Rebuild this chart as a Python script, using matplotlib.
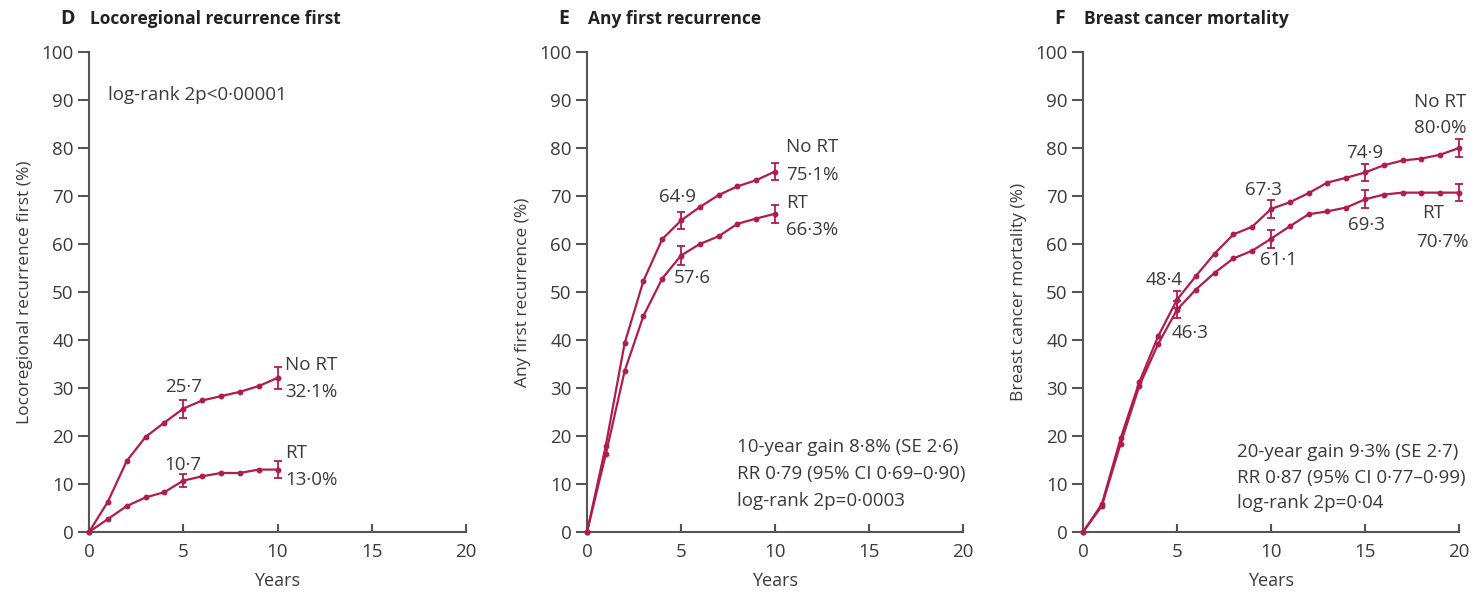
import numpy as np
import matplotlib.pyplot as plt

plt.rcParams['font.family'] = ['Open Sans', 'DejaVu Sans']

RED = '#b01c4f'
INK = '#3a3a3a'

# panel D: locoregional recurrence first, years 0-10
years_d = list(range(11))
d_no_rt = [0, 6.3, 14.8, 19.8, 22.8, 25.7, 27.4, 28.3, 29.2, 30.4, 32.1]
d_rt = [0, 2.7, 5.4, 7.2, 8.3, 10.7, 11.6, 12.3, 12.3, 13.0, 13.0]
d_err_years = [5, 10]
d_no_rt_se = [1.9, 2.3]
d_rt_se = [1.4, 1.7]

# panel E: any first recurrence, years 0-10
years_e = list(range(11))
e_no_rt = [0, 18.0, 39.3, 52.3, 61.0, 64.9, 67.7, 70.2, 72.0, 73.3, 75.1]
e_rt = [0, 16.2, 33.5, 45.0, 52.8, 57.6, 60.0, 61.6, 64.2, 65.3, 66.3]
e_err_years = [5, 10]
e_no_rt_se = [1.7, 1.7]
e_rt_se = [2.0, 1.9]

# panel F: breast cancer mortality, years 0-20
years_f = list(range(21))
f_no_rt = [0, 5.8, 19.5, 31.3, 40.8, 48.4, 53.3, 58.0, 62.0, 63.6, 67.3,
           68.7, 70.6, 72.8, 73.8, 74.9, 76.4, 77.4, 77.8, 78.6, 80.0]
f_rt = [0, 5.4, 18.4, 30.5, 39.2, 46.3, 50.5, 54.0, 57.0, 58.6, 61.1,
        63.7, 66.2, 66.8, 67.6, 69.3, 70.3, 70.7, 70.7, 70.7, 70.7]
f_err_years = [5, 10, 15, 20]
f_no_rt_se = [1.8, 1.8, 1.8, 1.9]
f_rt_se = [1.8, 1.9, 1.9, 1.8]

FS = 13.5


def setup_axes(ax, ylabel):
    ax.set_xlim(0, 20)
    ax.set_ylim(0, 100)
    ax.set_xticks([0, 5, 10, 15, 20])
    ax.set_yticks(range(0, 101, 10))
    for s in ['top', 'right']:
        ax.spines[s].set_visible(False)
    for s in ['left', 'bottom']:
        ax.spines[s].set_color('#555555')
        ax.spines[s].set_linewidth(1.5)
    ax.tick_params(axis='y', direction='out', length=8, width=1.5,
                   color='#555555', labelsize=FS, labelcolor=INK, pad=3)
    ax.tick_params(axis='x', direction='in', length=6, width=1.5,
                   color='#555555', labelsize=FS, labelcolor=INK, pad=8)
    ax.set_ylabel(ylabel, fontsize=12.5, color=INK, labelpad=6)
    ax.set_xlabel('Years', fontsize=13, color=INK, labelpad=8)


def draw_curve(ax, x, y, err_x, err_se):
    ax.plot(x, y, color=RED, lw=1.6, marker='o', ms=3.2, clip_on=False, zorder=3)
    err_y = [y[x.index(t)] for t in err_x]
    ax.errorbar(err_x, err_y, yerr=err_se, fmt='none', ecolor=RED,
                elinewidth=1.3, capsize=2.6, capthick=1.3, clip_on=False, zorder=4)


def txt(ax, x, y, s, ha='center'):
    ax.text(x, y, s, fontsize=FS, color=INK, ha=ha, va='center')


fig = plt.figure(figsize=(14.74, 5.93), dpi=100)
axes_x = [89, 587, 1083]
ax_d = fig.add_axes([89 / 1474, 1 - 532 / 593, 377 / 1474, 480 / 593])
ax_e = fig.add_axes([587 / 1474, 1 - 532 / 593, 376 / 1474, 480 / 593])
ax_f = fig.add_axes([1083 / 1474, 1 - 532 / 593, 376 / 1474, 480 / 593])

# D
setup_axes(ax_d, 'Locoregional recurrence first (%)')
draw_curve(ax_d, years_d, d_no_rt, d_err_years, d_no_rt_se)
draw_curve(ax_d, years_d, d_rt, d_err_years, d_rt_se)
txt(ax_d, 1.0, 91, 'log-rank 2p<0·00001', ha='left')
txt(ax_d, 5.0, 30.2, '25·7')
txt(ax_d, 5.0, 14.0, '10·7')
txt(ax_d, 10.4, 34.8, 'No RT', ha='left')
txt(ax_d, 10.4, 29.2, '32·1%', ha='left')
txt(ax_d, 10.4, 16.4, 'RT', ha='left')
txt(ax_d, 10.4, 10.8, '13·0%', ha='left')

# E
setup_axes(ax_e, 'Any first recurrence (%)')
draw_curve(ax_e, years_e, e_no_rt, e_err_years, e_no_rt_se)
draw_curve(ax_e, years_e, e_rt, e_err_years, e_rt_se)
txt(ax_e, 4.8, 69.8, '64·9')
txt(ax_e, 5.6, 52.9, '57·6')
txt(ax_e, 10.6, 80.2, 'No RT', ha='left')
txt(ax_e, 10.6, 74.4, '75·1%', ha='left')
txt(ax_e, 10.6, 68.5, 'RT', ha='left')
txt(ax_e, 10.6, 62.9, '66·3%', ha='left')
txt(ax_e, 8.0, 17.7, '10-year gain 8·8% (SE 2·6)', ha='left')
txt(ax_e, 8.0, 12.1, 'RR 0·79 (95% CI 0·69–0·90)', ha='left')
txt(ax_e, 8.0, 6.5, 'log-rank 2p=0·0003', ha='left')

# F
setup_axes(ax_f, 'Breast cancer mortality (%)')
draw_curve(ax_f, years_f, f_no_rt, f_err_years, f_no_rt_se)
draw_curve(ax_f, years_f, f_rt, f_err_years, f_rt_se)
txt(ax_f, 4.3, 52.5, '48·4')
txt(ax_f, 5.7, 41.4, '46·3')
txt(ax_f, 9.6, 71.3, '67·3')
txt(ax_f, 10.4, 56.7, '61·1')
txt(ax_f, 15.0, 79.0, '74·9')
txt(ax_f, 15.1, 64.0, '69·3')
txt(ax_f, 19.0, 89.6, 'No RT')
txt(ax_f, 19.0, 84.2, '80·0%')
txt(ax_f, 18.6, 66.4, 'RT')
txt(ax_f, 19.1, 60.4, '70·7%')
txt(ax_f, 8.2, 16.7, '20-year gain 9·3% (SE 2·7)', ha='left')
txt(ax_f, 8.2, 11.2, 'RR 0·87 (95% CI 0·77–0·99)', ha='left')
txt(ax_f, 8.2, 6.0, 'log-rank 2p=0·04', ha='left')

# panel titles, letter sits just left of each y axis
titles = [('D', 'Locoregional recurrence first'),
          ('E', 'Any first recurrence'),
          ('F', 'Breast cancer mortality')]
for (letter, title), px in zip(titles, axes_x):
    fig.text((px - 29) / 1474, 1 - 19 / 593, letter, fontsize=14, fontweight='bold',
             color='#222222', va='center', ha='left')
    fig.text((px + 1) / 1474, 1 - 19 / 593, title, fontsize=12.5,
             fontweight='bold', color='#222222', va='center', ha='left')

fig.savefig('out.png', dpi=100)
